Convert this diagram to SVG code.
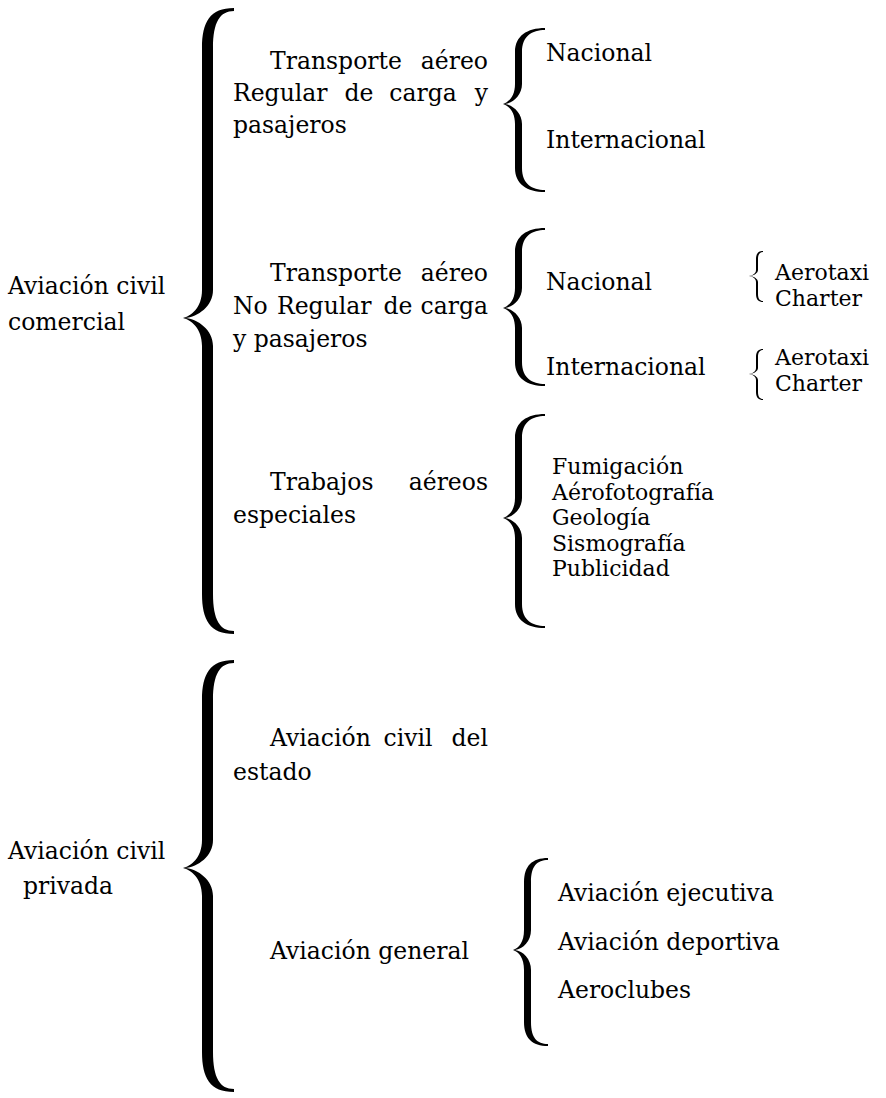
<svg xmlns="http://www.w3.org/2000/svg" width="886" height="1098" viewBox="0 0 886 1098">
<style>
.t { font-family: "DejaVu Serif", "Liberation Serif", serif; font-size: 23.5px; fill: #000; }
.s { font-size: 22px; }
.b { fill: #000; stroke: none; }
.e { text-anchor: end; }
.m { text-anchor: middle; }
</style>
<rect width="886" height="1098" fill="#fff"/>
<g id="connectors">
<path class="b" d="M 234,8 C 210,8 202,22 202,48 L 202,290 C 202,308 191,316 183,318 C 191,320 202,328 202,346 L 202,594 C 202,620 210,634 234,634 L 234,631 C 220,631 213,620 213,594 L 213,346 C 213,330 198,319 185,318 C 198,317 213,306 213,290 L 213,48 C 213,22 220,11 234,11 Z"/>
<path class="b" d="M 234,660 C 210,660 202,674 202,700 L 202,840 C 202,858 191,866 183,868 C 191,870 202,878 202,896 L 202,1052 C 202,1078 210,1092 234,1092 L 234,1089 C 220,1089 213,1078 213,1052 L 213,896 C 213,880 198,869 185,868 C 198,867 213,856 213,840 L 213,700 C 213,674 220,663 234,663 Z"/>
<path class="b" d="M 545,28 C 527,28 515,36 515,52 L 515,84 C 515,96 509,102 503,104 C 509,106 515,112 515,124 L 515,168 C 515,184 527,192 545,192 L 545,190 C 532,190 522,184 522,168 L 522,124 C 522,113 513,105 505,104 C 513,103 522,95 522,84 L 522,52 C 522,36 532,30 545,30 Z"/>
<path class="b" d="M 545,228 C 527,228 515,236 515,252 L 515,288 C 515,300 509,306 503,308 C 509,310 515,316 515,328 L 515,362 C 515,378 527,386 545,386 L 545,384 C 532,384 522,378 522,362 L 522,328 C 522,317 513,309 505,308 C 513,307 522,299 522,288 L 522,252 C 522,236 532,230 545,230 Z"/>
<path class="b" d="M 545,414 C 527,414 515,422 515,438 L 515,498 C 515,510 509,516 503,518 C 509,520 515,526 515,538 L 515,604 C 515,620 527,628 545,628 L 545,626 C 532,626 522,620 522,604 L 522,538 C 522,527 513,519 505,518 C 513,517 522,509 522,498 L 522,438 C 522,422 532,416 545,416 Z"/>
<path class="b" d="M 548,858 C 532,858 524,866 524,882 L 524,930 C 524,942 519,948 513,950 C 519,952 524,958 524,970 L 524,1022 C 524,1038 532,1046 548,1046 L 548,1044 C 537,1044 531,1038 531,1022 L 531,970 C 531,959 523,951 515,950 C 523,949 531,941 531,930 L 531,882 C 531,866 537,860 548,860 Z"/>
<path class="b" d="M 763,251 C 759,251 756,253 756,259 L 756,270 C 756,274 752,275.5 749,276 C 752,276.5 756,278 756,282 L 756,294 C 756,300 759,302 763,302 L 763,301 C 760,301 758,299 758,294 L 758,282 C 758,279 754,276.5 750,276 C 754,275.5 758,273 758,270 L 758,259 C 758,254 760,252 763,252 Z"/>
<path class="b" d="M 763,349 C 759,349 756,351 756,357 L 756,368 C 756,372 752,373.5 749,374 C 752,374.5 756,376 756,380 L 756,392 C 756,398 759,400 763,400 L 763,399 C 760,399 758,397 758,392 L 758,380 C 758,377 754,374.5 750,374 C 754,373.5 758,371 758,368 L 758,357 C 758,352 760,350 763,350 Z"/>
</g>
<g id="n-comercial">
<text class="t" x="8" y="294">Aviación civil</text>
<text class="t" x="8" y="330">comercial</text>
</g>
<g id="n-privada">
<text class="t" x="8" y="859">Aviación civil</text>
<text class="t" x="23" y="894">privada</text>
</g>
<g id="n-regular">
<text class="t" y="69"><tspan x="270">Transporte</tspan><tspan class="e" x="488">aéreo</tspan></text>
<text class="t" y="101"><tspan x="233">Regular</tspan><tspan class="m" x="359">de</tspan><tspan class="m" x="423">carga</tspan><tspan class="e" x="488">y</tspan></text>
<text class="t" x="233" y="133">pasajeros</text>
</g>
<g id="n-reg-nacional"><text class="t" x="546" y="61">Nacional</text></g>
<g id="n-reg-internacional"><text class="t" x="546" y="148">Internacional</text></g>
<g id="n-noregular">
<text class="t" y="281"><tspan x="270">Transporte</tspan><tspan class="e" x="488">aéreo</tspan></text>
<text class="t" y="314"><tspan x="233">No</tspan><tspan x="277">Regular</tspan><tspan class="m" x="398">de</tspan><tspan class="e" x="488">carga</tspan></text>
<text class="t" x="233" y="347">y pasajeros</text>
</g>
<g id="n-nr-nacional"><text class="t" x="546" y="290">Nacional</text></g>
<g id="n-nr-internacional"><text class="t" x="546" y="375">Internacional</text></g>
<g id="n-nac-sub">
<text class="t s" x="775" y="280">Aerotaxi</text>
<text class="t s" x="775" y="306">Charter</text>
</g>
<g id="n-int-sub">
<text class="t s" x="775" y="365">Aerotaxi</text>
<text class="t s" x="775" y="391">Charter</text>
</g>
<g id="n-trabajos">
<text class="t" y="490"><tspan x="270">Trabajos</tspan><tspan class="e" x="488">aéreos</tspan></text>
<text class="t" x="233" y="523">especiales</text>
</g>
<g id="n-trabajos-list">
<text class="t s" x="552" y="474">Fumigación</text>
<text class="t s" x="552" y="499.6">Aérofotografía</text>
<text class="t s" x="552" y="525.2">Geología</text>
<text class="t s" x="552" y="550.8">Sismografía</text>
<text class="t s" x="552" y="576.4">Publicidad</text>
</g>
<g id="n-estado">
<text class="t" y="746"><tspan x="270">Aviación</tspan><tspan class="m" x="408">civil</tspan><tspan class="e" x="488">del</tspan></text>
<text class="t" x="233" y="780">estado</text>
</g>
<g id="n-general">
<text class="t" x="270" y="959">Aviación general</text>
</g>
<g id="n-general-list">
<text class="t" x="558" y="901">Aviación ejecutiva</text>
<text class="t" x="558" y="950">Aviación deportiva</text>
<text class="t" x="558" y="998">Aeroclubes</text>
</g>
</svg>
